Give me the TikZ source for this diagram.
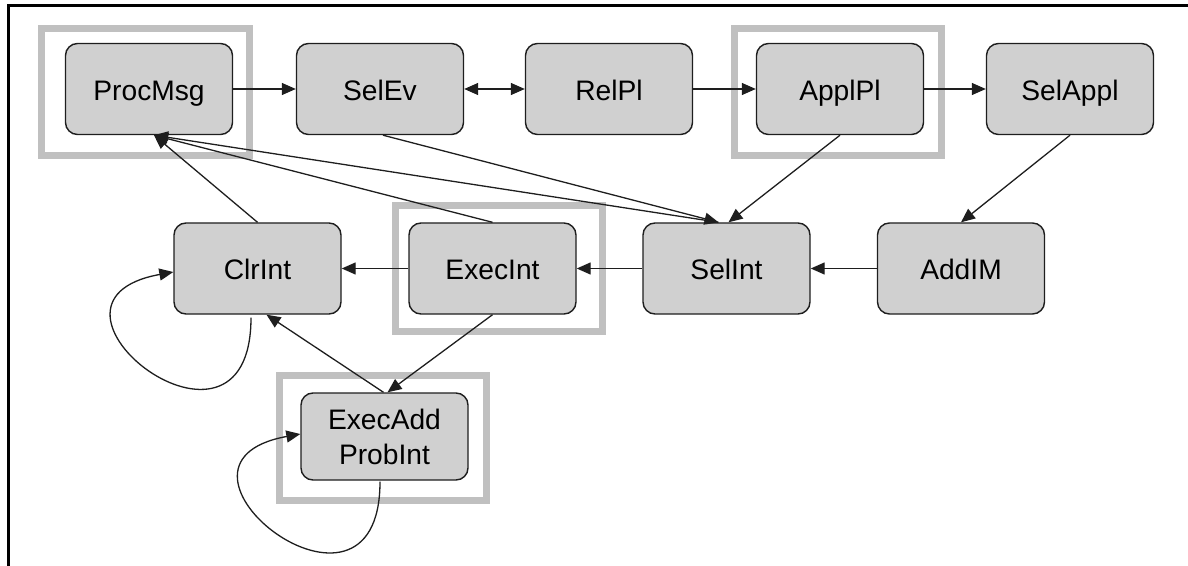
\documentclass[tikz,border=0pt]{standalone}
\usepackage{fontspec}
\setmainfont{Liberation Sans}
\usetikzlibrary{arrows.meta,calc}
\definecolor{boxfill}{RGB}{208,208,208}
\definecolor{halogray}{RGB}{192,192,192}
\definecolor{ink}{RGB}{30,30,30}
\begin{document}
\begin{tikzpicture}[x=1bp,y=-1bp,
  stagebase/.style={draw=ink, line width=1.4bp, fill=boxfill, rounded corners=12bp,
    minimum width=167bp, minimum height=91bp, inner sep=0pt, align=center,
    font=\fontsize{28.3}{35}\selectfont},
  stage/.style={stagebase, text height=24bp, text depth=1bp},
  flow/.style={draw=ink, line width=1.3bp, -{Triangle[length=14bp,width=12bp]}},
  twoway/.style={draw=ink, line width=1.3bp,
    {Triangle[length=14bp,width=12bp]}-{Triangle[length=14bp,width=12bp]}},
  halo/.style={draw=halogray, line width=7bp},
  frameline/.style={draw=black, line width=3bp}]

\useasboundingbox (0,0) rectangle (1188,566);

% outer frame (top and left edges)
\draw[frameline] (1190,5.5) -- (8.5,5.5) -- (8.5,568);

% highlight frames
\draw[halo] (41.5,29) rectangle (249,155.5);
\draw[halo] (734.5,29) rectangle (941,155.5);
\draw[halo] (395,206) rectangle (602,331);
\draw[halo] (279.5,375) rectangle (486.5,500);

% stages
\node[stage] (proc)    at (149,89)      {ProcMsg};
\node[stage] (selev)   at (380,89)      {SelEv};
\node[stage] (relpl)   at (609,89)      {RelPl};
\node[stage] (applpl)  at (840,89)      {ApplPl};
\node[stage] (selappl) at (1070,89)     {SelAppl};
\node[stage] (clr)     at (257.5,268.5) {ClrInt};
\node[stage] (exec)    at (492.5,268.5) {ExecInt};
\node[stage] (selint)  at (726.5,268.5) {SelInt};
\node[stage] (addim)   at (961,268.5)   {AddIM};
\node[stagebase, minimum height=87bp] (eap) at (384.5,436.5) {ExecAdd\\ProbInt};

% top row
\draw[flow]   (proc) -- (selev);
\draw[twoway] (selev) -- (relpl);
\draw[flow]   (relpl) -- (applpl);
\draw[flow]   (applpl) -- (selappl);

% second row
\draw[flow] (selappl.south) -- (addim.north);
\draw[flow] (addim) -- (selint);
\draw[flow] (selint) -- (exec);
\draw[flow] (exec) -- (clr);

% into SelInt
\draw[flow] (applpl.south) -- ($(selint.north)+(2,0)$);
\draw[flow] ($(selev.south)+(3,0)$) -- ($(selint.north)+(-8,0)$);

% back to ProcMsg
\draw[flow] ($(selint.north)+(-8,0)$) -- ($(proc.south)+(5,0)$);
\draw[flow] (exec.north) -- ($(proc.south)+(5,0)$);
\draw[flow] (clr.north) -- ($(proc.south)+(5,0)$);

% ExecAddProbInt links
\draw[flow] (exec.south) -- ($(eap.north)+(3,0)$);
\draw[flow] ($(eap.north)+(-1,0)$) -- ($(clr.south)+(9,0)$);

% self loops
\draw[flow] ($(clr.south)+(-6.5,3)$) .. controls +(0,172) and +(-165,30) .. ($(clr.west)+(0,3.5)$);
\draw[flow] ($(eap.south)+(-4.5,1)$) .. controls +(0,172) and +(-165,30) .. ($(eap.west)+(0,-2.5)$);
\end{tikzpicture}
\end{document}
